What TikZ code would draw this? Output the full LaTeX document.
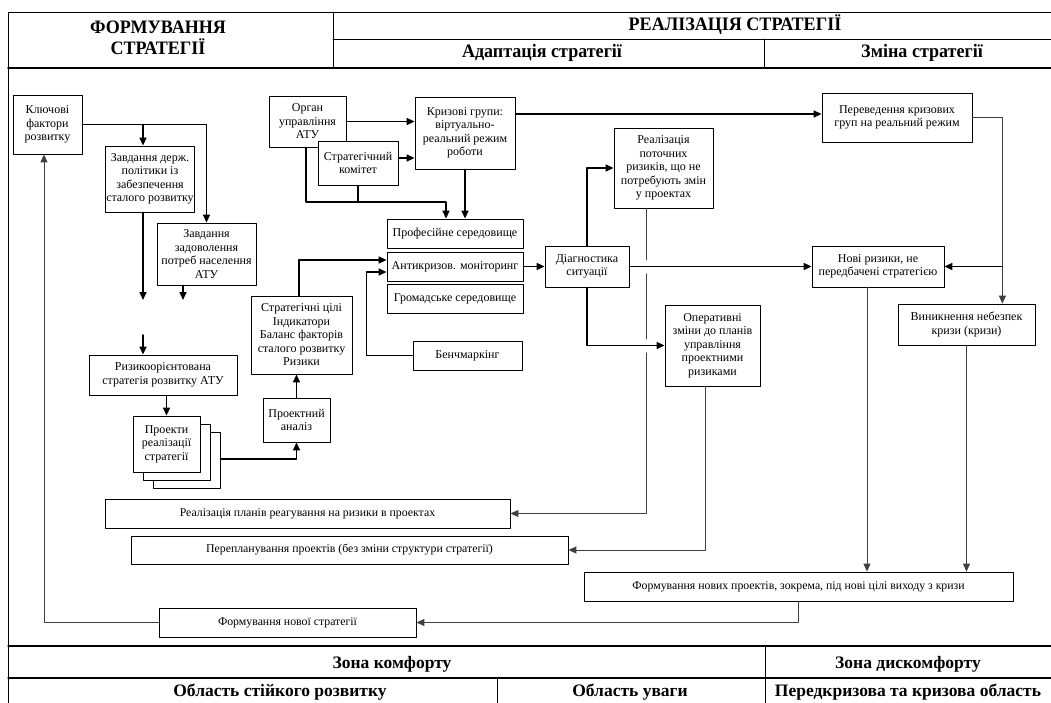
\documentclass[tikz,border=0pt]{standalone}
\usepackage{fontspec}
\setmainfont{Liberation Serif}
\newfontfamily\headfont[FakeStretch=0.95]{Liberation Serif}
\usetikzlibrary{arrows.meta, calc, shadows}

\tikzset{
  box/.style={draw, fill=white, line width=0.8pt, align=center, inner sep=1pt,
    font=\fontsize{12}{13.5}\selectfont},
  widebox/.style={box, font=\fontsize{11.8}{13}\selectfont},
  conn/.style={line width=1.5pt},
  thinconn/.style={line width=1pt, draw=black!75},
  frame/.style={line width=0.9pt},
  head/.style={align=center, font=\headfont\bfseries\fontsize{19}{21}\selectfont},
  zone/.style={font=\bfseries\fontsize{17.5}{19}\selectfont},
}

\begin{document}
\begin{tikzpicture}[line cap=round,line join=round,>={Triangle[length=8pt,width=7pt]},x=1pt,y=-1pt]
\useasboundingbox (0,0) rectangle (1051,703);

% header
\draw[frame] (8,703) -- (8,12) -- (1051,12);
\draw[frame] (333,12) -- (333,68);
\draw[frame] (333,39) -- (1051,39);
\draw[frame] (764,39) -- (764,68);
\draw[line width=1.6pt] (8,68) -- (1051,68);
\node[head] (hform) at (158,38) {ФОРМУВАННЯ\\СТРАТЕГІЇ};
\node[head] (hreal) at (735,25) {РЕАЛІЗАЦІЯ СТРАТЕГІЇ};
\node[head] (hadapt) at (542,53) {Адаптація стратегії};
\node[head] (hzmina) at (922,53) {Зміна стратегії};

% footer
\draw[line width=1.3pt] (8,646) -- (1051,646);
\draw[line width=1.3pt] (8,678) -- (1051,678);
\draw[frame] (765,646) -- (765,703);
\draw[frame] (497,678) -- (497,703);
\node[zone] (zkomf) at (392,664) {Зона комфорту};
\node[zone] (zdysk) at (908,664) {Зона дискомфорту};
\node[zone] (ostiik) at (280,692) {Область стійкого розвитку};
\node[zone] (ouvagy) at (630,692) {Область уваги};
\node[zone] (okryz) at (908,692) {Передкризова та кризова область};

% formuvannia
\node[box, minimum width=69pt, minimum height=59pt] (kluch) at (47.5,124.5) {Ключові\\фактори\\розвитку};
\node[box, minimum width=88pt, minimum height=66pt] (zavdD) at (150,179) {Завдання держ.\\політики із\\забезпечення\\сталого розвитку};
\node[box, minimum width=99pt, minimum height=62pt] (zavdN) at (206.5,254) {Завдання\\задоволення\\потреб населення\\АТУ};
\node[box, minimum width=148pt, minimum height=40pt] (rizyk) at (163,375) {Ризикоорієнтована\\стратегія розвитку АТУ};
\node[box, minimum width=67pt, minimum height=56pt,
  double copy shadow={shadow xshift=10pt, shadow yshift=-8pt, fill=white, draw=black, line width=0.8pt}]
  (proekty) at (166.5,444) {Проекти\\реалізації\\стратегії};
\node[box, minimum width=67pt, minimum height=44pt] (analiz) at (296.5,420) {Проектний\\аналіз};
\node[box, minimum width=101pt, minimum height=78pt] (cili) at (301.5,335) {Стратегічні цілі\\Індикатори\\Баланс факторів\\сталого розвитку\\Ризики};

% adaptatsiia
\node[box, minimum width=77pt, minimum height=51pt] (organ) at (307.5,121.5) {Орган\\управління\\АТУ};
\node[box, minimum width=80pt, minimum height=44pt] (komitet) at (358,163) {Стратегічний\\комітет};
\node[box, minimum width=100pt, minimum height=72pt] (kryzovi) at (465,133) {Кризові групи:\\віртуально-\\реальний режим\\роботи};
\node[box, minimum width=136pt, minimum height=29pt] (prof) at (455,233.5) {Професійне середовище};
\node[box, minimum width=136pt, minimum height=29pt] (anty) at (455,266.5) {Антикризов. моніторинг};
\node[box, minimum width=136pt, minimum height=29pt] (hrom) at (455,298.5) {Громадське середовище};
\node[box, minimum width=109pt, minimum height=29pt] (bench) at (467.5,355.5) {Бенчмаркінг};
\node[box, minimum width=84pt, minimum height=41pt] (diag) at (587,266.5) {Діагностика\\ситуації};
\node[box, minimum width=99pt, minimum height=80pt] (potoch) at (663.5,168) {Реалізація\\поточних\\ризиків, що не\\потребують змін\\у проектах};
\node[box, minimum width=95pt, minimum height=81pt] (operat) at (712.5,345.5) {Оперативні\\зміни до планів\\управління\\проектними\\ризиками};

% zmina
\node[box, minimum width=150pt, minimum height=49pt] (perev) at (897,117.5) {Переведення кризових\\груп на реальний режим};
\node[box, minimum width=132pt, minimum height=41pt] (novi) at (878,266.5) {Нові ризики, не\\передбачені стратегією};
\node[box, minimum width=137pt, minimum height=41pt] (vynyk) at (966.5,324.5) {Виникнення небезпек\\кризи (кризи)};

% bottom rows
\node[widebox, minimum width=405pt, minimum height=29pt] (planiv) at (307.5,513.5) {Реалізація планів реагування на ризики в проектах};
\node[widebox, minimum width=437pt, minimum height=28pt] (pereplan) at (349.5,550) {Перепланування проектів (без зміни структури стратегії)};
\node[widebox, minimum width=429pt, minimum height=29pt] (novproekt) at (798.5,586.5) {Формування нових проектів, зокрема, під нові цілі виходу з кризи};
\node[widebox, minimum width=257pt, minimum height=29pt] (novstrat) at (287.5,622.5) {Формування нової стратегії};

% connectors
\coordinate (k1) at (143,124.5);
\coordinate (g1) at (143,300);
\coordinate (g2) at (183,300);
\coordinate (g3) at (143,335);
\draw[conn,->] (kluch.east) -| (zavdN.north);
\draw[conn,->] (k1) -- (k1 |- zavdD.north);
\draw[conn,->] (g1 |- zavdD.south) -- (g1);
\draw[conn,->] (g2 |- zavdN.south) -- (g2);
\draw[conn,->] (g3) -- (g3 |- rizyk.north);
\draw[conn,->] (proekty.north |- rizyk.south) -- (proekty.north);
\draw[conn,->] ([shift={(20pt,-15pt)}]proekty.east) -| (analiz.south);
\draw[conn,->] (analiz.north) -- (analiz.north |- cili.south);
\draw[conn,->] ([xshift=-2.5pt]cili.north) |- ([yshift=6.5pt]anty.west);
\draw[conn,->] (bench.west) -- ++(-46,0) |- ([yshift=-5.5pt]anty.west);

\coordinate (j1) at (446,202);
\draw[conn,->] (organ.east) -- (organ.east -| kryzovi.west);
\draw[conn,->] ([yshift=5pt]komitet.east) -- ([yshift=5pt]komitet.east -| kryzovi.west);
\draw[conn,->] (kryzovi.south) -- (kryzovi.south |- prof.north);
\draw[conn,->] ([xshift=-1.5pt]organ.south) |- (j1) -- (j1 |- prof.north);
\draw[conn] (komitet.south) -- (komitet.south |- j1);
\draw[conn,->] ([yshift=19pt]kryzovi.east) -- ([yshift=19pt]kryzovi.east -| perev.west);

\draw[conn,->] (anty.east) -- (diag.west);
\draw[conn,->] (diag.east) -- (novi.west);
\draw[conn,->] (diag.north) |- (potoch.west);
\draw[conn,->] (diag.south) |- (operat.west);
\draw[thinconn,->] ([xshift=-17.5pt]potoch.south) -- ++(0,51.5) ++(0,14) -- ++(0,65) ++(0,14) |- (planiv.east);
\draw[thinconn,->] ([xshift=-7.5pt]operat.south) |- (pereplan.east);

\draw[thinconn] (perev.east) -- ++(30,0) coordinate (rr);
\draw[thinconn,->] (rr) -- (rr |- vynyk.north);
\draw[conn,->] (rr |- novi.east) -- (novi.east);
\draw[thinconn,->] ([xshift=-11pt]novi.south) -- ([xshift=-11pt]novi.south |- novproekt.north);
\draw[thinconn,->] (vynyk.south) -- (vynyk.south |- novproekt.north);
\draw[thinconn,->] (novproekt.south) |- (novstrat.east);
\draw[thinconn,->] (novstrat.west) -| ([xshift=-3.5pt]kluch.south);

\end{tikzpicture}
\end{document}
